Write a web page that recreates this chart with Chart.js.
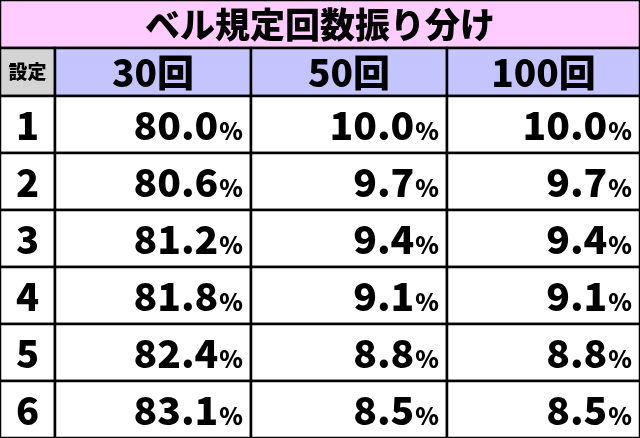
<!DOCTYPE html>
<html>
<head>
<script src="https://cdn.jsdelivr.net/npm/chart.js"></script>
<style>body{margin:0;background:#fff}</style>
</head>
<body>
<canvas id="c" width="640" height="438"></canvas>
<script>
const title = 'ベル規定回数振り分け';
const settingLabel = '設定';
const columns = ['30回', '50回', '100回'];
const settings = ['1', '2', '3', '4', '5', '6'];
const rate30 = [80.0, 80.6, 81.2, 81.8, 82.4, 83.1];
const rate50 = [10.0, 9.7, 9.4, 9.1, 8.8, 8.5];
const rate100 = [10.0, 9.7, 9.4, 9.1, 8.8, 8.5];

// layout (in scale units = pixels)
const colEdges = [0, 55, 251, 447, 640];
const titleBottom = 48;
const headBottom = 96;
const rowH = (438 - headBottom) / settings.length;
const FONT = '"Noto Sans CJK JP", sans-serif';

const tablePlugin = {
  id: 'table',
  afterDraw(chart) {
    const ctx = chart.ctx, sx = chart.scales.x, sy = chart.scales.y;
    const X = v => sx.getPixelForValue(v), Y = v => sy.getPixelForValue(v);
    const rect = (x0, y0, x1, y1, fill) => {
      ctx.fillStyle = fill;
      ctx.fillRect(X(x0), Y(y0), X(x1) - X(x0), Y(y1) - Y(y0));
      ctx.strokeStyle = '#000'; ctx.lineWidth = 2.5;
      ctx.strokeRect(X(x0), Y(y0), X(x1) - X(x0), Y(y1) - Y(y0));
    };
    ctx.save();
    ctx.textBaseline = 'middle';
    // title
    rect(0, 0, 640, titleBottom, '#ffccff');
    ctx.fillStyle = '#000'; ctx.textAlign = 'center';
    ctx.font = '900 35px ' + FONT;
    ctx.fillText(title, X(320), Y(titleBottom / 2 + 1));
    // header
    rect(colEdges[0], titleBottom, colEdges[1], headBottom, '#d4d4d4');
    ctx.fillStyle = '#000'; ctx.font = '900 19px ' + FONT;
    ctx.fillText(settingLabel, X((colEdges[0] + colEdges[1]) / 2), Y((titleBottom + headBottom) / 2));
    columns.forEach((c, i) => {
      rect(colEdges[i + 1], titleBottom, colEdges[i + 2], headBottom, '#c4c4ff');
      ctx.fillStyle = '#000'; ctx.font = '900 37px ' + FONT;
      ctx.fillText(c, X((colEdges[i + 1] + colEdges[i + 2]) / 2), Y((titleBottom + headBottom) / 2 + 1));
    });
    // rows
    const series = [rate30, rate50, rate100];
    settings.forEach((s, r) => {
      const y0 = headBottom + r * rowH, y1 = y0 + rowH, ym = (y0 + y1) / 2 + 1;
      rect(colEdges[0], y0, colEdges[1], y1, '#fff');
      ctx.fillStyle = '#000'; ctx.textAlign = 'center'; ctx.font = '900 38px ' + FONT;
      ctx.fillText(s, X((colEdges[0] + colEdges[1]) / 2), Y(ym));
      series.forEach((vals, i) => {
        rect(colEdges[i + 1], y0, colEdges[i + 2], y1, '#fff');
        const right = X(colEdges[i + 2] - 8);
        ctx.fillStyle = '#000'; ctx.textAlign = 'right';
        ctx.font = '900 24px ' + FONT;
        ctx.fillText('%', right, Y(ym + 5));
        const pw = ctx.measureText('%').width;
        ctx.font = '900 39px ' + FONT;
        ctx.fillText(vals[r].toFixed(1), right - pw - 1, Y(ym));
      });
    });
    ctx.restore();
  }
};

new Chart(document.getElementById('c'), {
  type: 'scatter',
  data: { datasets: [{ data: [] }] },
  options: {
    responsive: false, animation: false,
    layout: { padding: 0 },
    plugins: { legend: { display: false }, tooltip: { enabled: false } },
    scales: {
      x: { type: 'linear', min: 0, max: 640, display: false },
      y: { type: 'linear', min: 0, max: 438, reverse: true, display: false }
    }
  },
  plugins: [tablePlugin]
});
</script>
</body>
</html>
